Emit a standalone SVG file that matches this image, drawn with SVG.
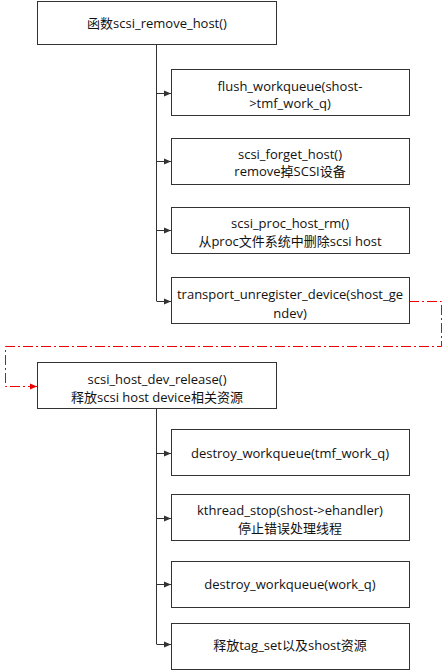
<svg xmlns="http://www.w3.org/2000/svg" width="446" height="671" viewBox="0 0 446 671">
<style>
.box{fill:#fff;stroke:#333;stroke-width:1}
text{font-family:"Open Sans","Noto Sans CJK SC",sans-serif;font-size:13px;fill:#111;text-anchor:middle;dominant-baseline:central}
.ln{fill:none;stroke:#333;stroke-width:1}
.red{fill:none;stroke:#e00;stroke-width:1;stroke-dasharray:10,3,2,3}
</style>
<defs>
<marker id="ah" markerWidth="8" markerHeight="8" refX="7" refY="4" orient="auto" markerUnits="userSpaceOnUse">
<path d="M0,1 L7,4 L0,7 z" fill="#333"/>
</marker>
<marker id="ahr" markerWidth="8" markerHeight="8" refX="7" refY="4" orient="auto" markerUnits="userSpaceOnUse">
<path d="M0,1 L7,4 L0,7 z" fill="#e00"/>
</marker>
</defs>
<rect width="446" height="671" fill="#fff"/>
<g id="connectors">
<path class="ln" d="M156.5,45 V301"/>
<path class="ln" d="M156.5,93.5 H171" marker-end="url(#ah)"/>
<path class="ln" d="M156.5,161.5 H171" marker-end="url(#ah)"/>
<path class="ln" d="M156.5,230.5 H171" marker-end="url(#ah)"/>
<path class="ln" d="M156.5,301.5 H171" marker-end="url(#ah)"/>
<path class="red" d="M409,301.5 H441.5 V346.5 H5.5 V386.5 H37" marker-end="url(#ahr)"/>
<path class="ln" d="M156.5,409 V644"/>
<path class="ln" d="M156.5,453.5 H171" marker-end="url(#ah)"/>
<path class="ln" d="M156.5,518.5 H171" marker-end="url(#ah)"/>
<path class="ln" d="M156.5,584.5 H171" marker-end="url(#ah)"/>
<path class="ln" d="M156.5,644.5 H171" marker-end="url(#ah)"/>
</g>
<g id="n0"><rect class="box" x="37.5" y="1.5" width="239" height="43"/><text x="157" y="23">函数scsi_remove_host()</text></g>
<g id="n1"><rect class="box" x="171.5" y="69.5" width="238" height="46"/><text x="290" y="86">flush_workqueue(shost-</text><text x="290" y="103">&gt;tmf_work_q)</text></g>
<g id="n2"><rect class="box" x="171.5" y="138.5" width="238" height="46"/><text x="290" y="154">scsi_forget_host()</text><text x="290" y="171">remove掉SCSI设备</text></g>
<g id="n3"><rect class="box" x="171.5" y="207.5" width="238" height="46"/><text x="290" y="223">scsi_proc_host_rm()</text><text x="290" y="241">从proc文件系统中删除scsi host</text></g>
<g id="n4"><rect class="box" x="171.5" y="277.5" width="238" height="46"/><text x="290" y="294">transport_unregister_device(shost_ge</text><text x="290" y="313">ndev)</text></g>
<g id="n5"><rect class="box" x="37.5" y="362.5" width="239" height="46"/><text x="157" y="379">scsi_host_dev_release()</text><text x="157" y="397">释放scsi host device相关资源</text></g>
<g id="n6"><rect class="box" x="171.5" y="429.5" width="238" height="46"/><text x="290" y="453">destroy_workqueue(tmf_work_q)</text></g>
<g id="n7"><rect class="box" x="171.5" y="494.5" width="238" height="46"/><text x="290" y="510">kthread_stop(shost-&gt;ehandler)</text><text x="290" y="528">停止错误处理线程</text></g>
<g id="n8"><rect class="box" x="171.5" y="561.5" width="238" height="46"/><text x="290" y="584">destroy_workqueue(work_q)</text></g>
<g id="n9"><rect class="box" x="171.5" y="623.5" width="238" height="46"/><text x="290" y="645">释放tag_set以及shost资源</text></g>
</svg>
